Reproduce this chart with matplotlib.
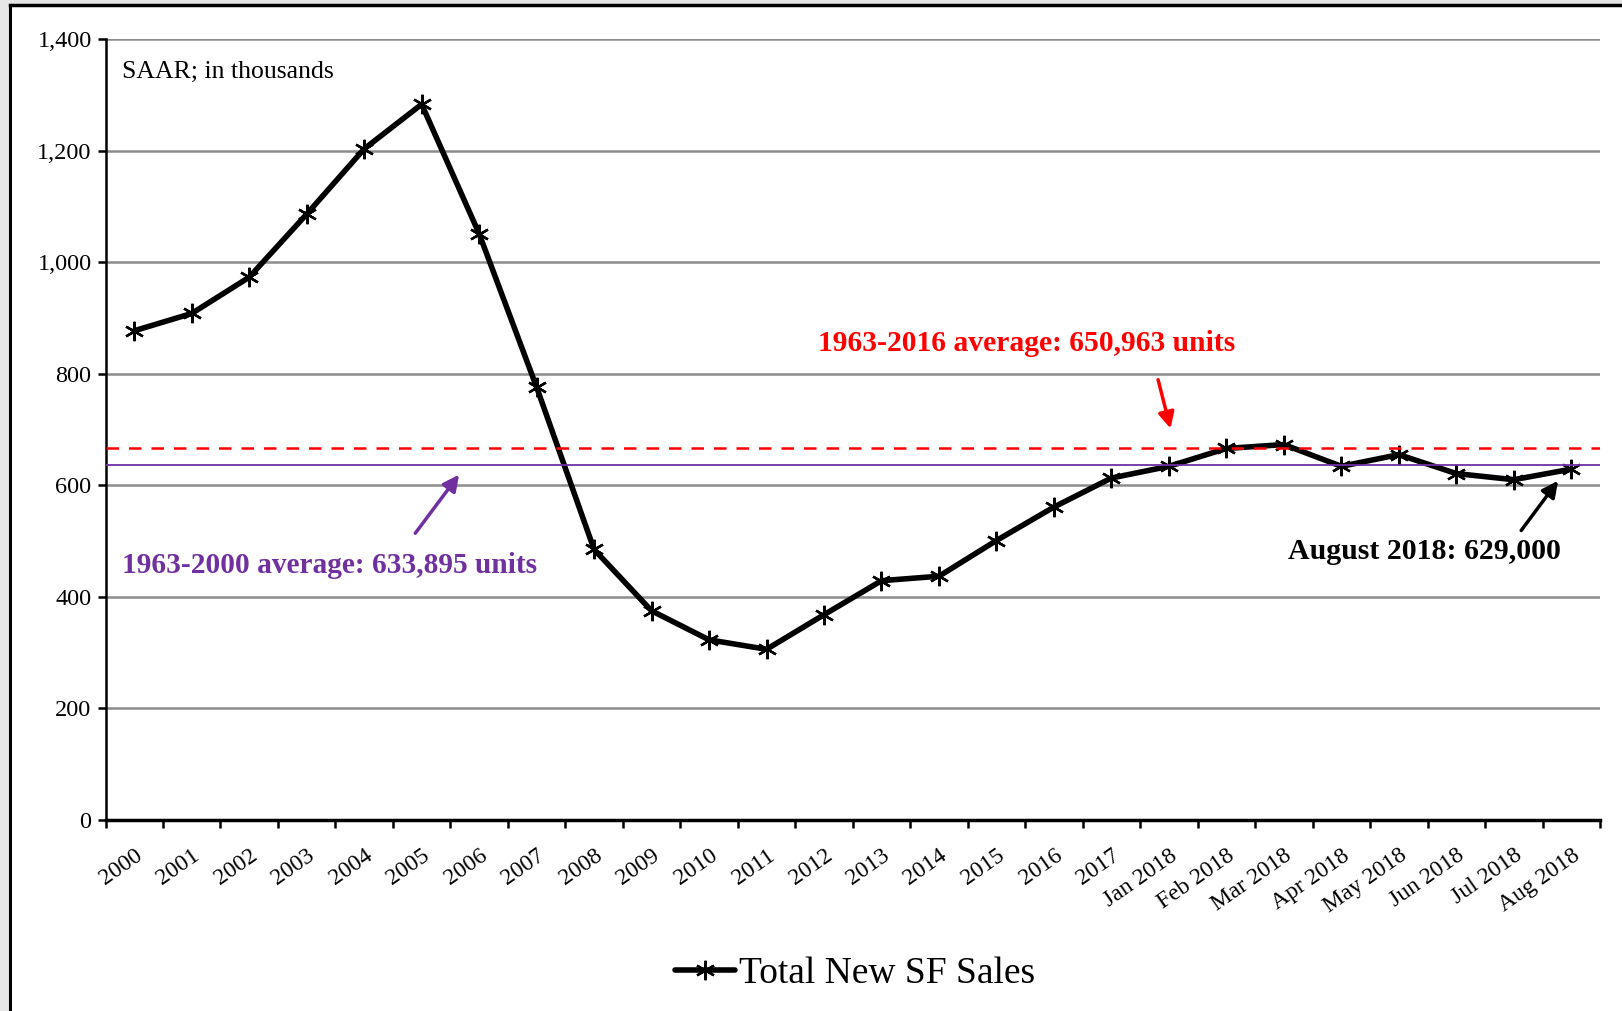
import matplotlib.pyplot as plt
from matplotlib.patches import Rectangle
from matplotlib.lines import Line2D

categories = ["2000", "2001", "2002", "2003", "2004", "2005", "2006", "2007",
              "2008", "2009", "2010", "2011", "2012", "2013", "2014", "2015",
              "2016", "2017", "Jan 2018", "Feb 2018", "Mar 2018", "Apr 2018",
              "May 2018", "Jun 2018", "Jul 2018", "Aug 2018"]
sales = [877, 908, 973, 1086, 1203, 1283, 1051, 776,
         485, 375, 323, 306, 368, 429, 437, 501,
         561, 613, 634, 666, 673, 634,
         655, 621, 610, 629]
avg_1963_2016_drawn = 666
avg_1963_2000_drawn = 637
yticks = [0, 200, 400, 600, 800, 1000, 1200, 1400]

plt.rcParams['font.family'] = ['Liberation Serif', 'DejaVu Serif']

fig = plt.figure(figsize=(16.22, 10.11), dpi=100)
fig.patch.set_facecolor('#e6e6e6')
# white slide panel with black top/left border
fig.add_artist(Rectangle((10 / 1622, 0), 1.0, 1 - 5 / 1011, transform=fig.transFigure,
                         facecolor='white', edgecolor='none', zorder=0))
fig.add_artist(Line2D([10 / 1622, 10 / 1622], [0, 1 - 5 / 1011], transform=fig.transFigure,
                      color='black', lw=2.2))
fig.add_artist(Line2D([10 / 1622, 1], [1 - 5 / 1011, 1 - 5 / 1011], transform=fig.transFigure,
                      color='black', lw=2.5))

ax = fig.add_axes([105.5 / 1622, 191 / 1011, (1600 - 105.5) / 1622, (820 - 39) / 1011])
ax.set_facecolor('white')

x = list(range(len(categories)))
ax.plot(x, sales, color='black', lw=4.0, marker=(6, 2, 0), markersize=14,
        markeredgewidth=1.7, label='Total New SF Sales', zorder=3,
        solid_capstyle='round')

ax.axhline(avg_1963_2016_drawn, color='#ff0000', lw=1.8, ls=(0, (5, 4)), zorder=4)
ax.axhline(avg_1963_2000_drawn, color='#7030a0', lw=1.3, zorder=4)

ax.set_xlim(-0.5, len(categories) - 0.5)
ax.set_ylim(0, 1400)
ax.set_yticks(yticks)
ax.set_yticklabels([f"{v:,}" for v in yticks], fontsize=17.5)
ax.yaxis.grid(True, color='#8c8c8c', lw=1.8)
ax.set_axisbelow(True)

ax.set_xticks([i - 0.5 for i in range(len(categories) + 1)])
ax.set_xticklabels([])
ax.set_xticks(x, minor=True)
ax.set_xticklabels(categories, minor=True, rotation=35, ha='right', va='top',
                   rotation_mode='anchor', fontsize=17)
ax.tick_params(axis='x', which='minor', length=0, pad=18)
ax.tick_params(axis='x', which='major', length=6, width=1.8, direction='out')
ax.tick_params(axis='y', length=6, width=1.8, direction='out', pad=4)

for s in ['top', 'right']:
    ax.spines[s].set_visible(False)
ax.spines['left'].set_linewidth(1.8)
ax.spines['bottom'].set_linewidth(2.5)

ax.text(0.011, 0.972, "SAAR; in thousands", transform=ax.transAxes, fontsize=18.5,
        ha='left', va='top')

ax.annotate("", xy=(18.04, 697), xytext=(17.8, 794),
            arrowprops=dict(arrowstyle='-|>', color='#ff0000', lw=2.5, mutation_scale=24))
ax.text(15.52, 855, "1963-2016 average: 650,963 units", color='#ff0000', fontsize=21.3,
        fontweight='bold', ha='center', va='center')

ax.annotate("", xy=(5.68, 623), xytext=(4.86, 510),
            arrowprops=dict(arrowstyle='-|>', color='#7030a0', lw=2.5, mutation_scale=24))
ax.text(-0.22, 456, "1963-2000 average: 633,895 units", color='#7030a0', fontsize=21.2,
        fontweight='bold', ha='left', va='center')

ax.annotate("", xy=(24.8, 612), xytext=(24.1, 515),
            arrowprops=dict(arrowstyle='-|>', color='black', lw=2.5, mutation_scale=24))
ax.text(24.82, 482, "August 2018: 629,000", color='black', fontsize=21.5,
        fontweight='bold', ha='right', va='center')

leg = fig.legend(loc='center', bbox_to_anchor=(0.527, 0.037), frameon=False,
                 fontsize=27, handlelength=1.6, handletextpad=0.1)

fig.savefig('out.png', dpi=100)
